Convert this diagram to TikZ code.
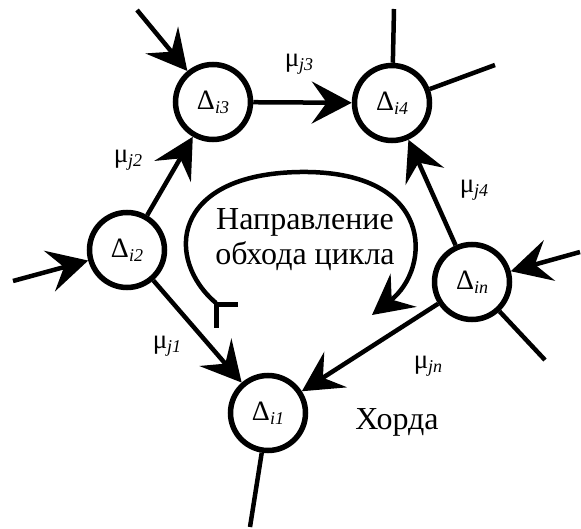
\documentclass[tikz,border=0pt]{standalone}
\usepackage{fontspec}
\setmainfont{Liberation Serif}
\usetikzlibrary{arrows.meta}
\newcommand{\lowidx}[2]{\raisebox{-0.3ex}{\fontsize{#1}{#1}\selectfont\itshape #2}}
\begin{document}
\begin{tikzpicture}[x=1pt,y=-1pt,
  vert/.style={circle,draw,line width=5.5pt,minimum size=75pt,inner sep=0pt,font=\fontsize{28}{30}\selectfont},
  link/.style={line width=4.5pt},
  arr/.style={link,-{Stealth[length=40pt,width=42pt,inset=15pt]}},
  wlab/.style={font=\fontsize{27}{30}\selectfont,inner sep=0pt},
  txt/.style={font=\fontsize{32}{35}\selectfont,align=center,inner sep=0pt}]
\useasboundingbox (0,0) rectangle (581,529);
\node[vert] (n3) at (213,102) {Δ\lowidx{18}{i3}};
\node[vert] (n4) at (392,103) {Δ\lowidx{18}{i4}};
\node[vert] (n2) at (127,250) {Δ\lowidx{18}{i2}};
\node[vert] (nn) at (472,282) {Δ\lowidx{18}{in}};
\node[vert] (n1) at (268,413) {Δ\lowidx{18}{i1}};
\coordinate (e3) at (137,10);
\coordinate (e2) at (13,281);
\coordinate (en) at (580,252);
\coordinate (f4a) at (394,9);
\coordinate (f4b) at (495,65);
\coordinate (fn) at (545,360);
\coordinate (f1) at (250,527);
\draw[arr] (e3) -- (n3);
\draw[arr] (e2) -- (n2);
\draw[arr] (en) -- (nn);
\draw[arr] (n2) -- (n3);
\draw[arr] (n3) -- (n4);
\draw[arr] (nn) -- (n4);
\draw[arr] (n2) -- (n1);
\draw[arr] (nn) -- (n1);
\draw[link] (n4) -- (f4a);
\draw[link] (n4) -- (f4b);
\draw[link] (nn) -- (fn);
\draw[link] (n1) -- (f1);
\node[wlab] (m2) at (128,160) {μ\lowidx{18}{j2}};
\node[wlab] (m3) at (299,64) {μ\lowidx{18}{j3}};
\node[wlab] (m4) at (474,190) {μ\lowidx{18}{j4}};
\node[wlab] (m1) at (167,346) {μ\lowidx{18}{j1}};
\node[wlab] (mn) at (428,366) {μ\lowidx{18}{jn}};
\node[txt] (dir) at (305,240) {Направление\\обхода цикла};
\node[txt] (ch) at (397,422) {Хорда};
\coordinate (ls) at (216,303);
\coordinate (lt) at (300,172);
\coordinate (le) at (372,315);
\draw[arr] (ls) .. controls (165,260) and (170,174) .. (lt) .. controls (435,170) and (432,268) .. (le);
\coordinate (g1) at (216,328);
\coordinate (g2) at (238,305);
\draw[link,line width=5pt] (g1) |- (g2);
\end{tikzpicture}
\end{document}
